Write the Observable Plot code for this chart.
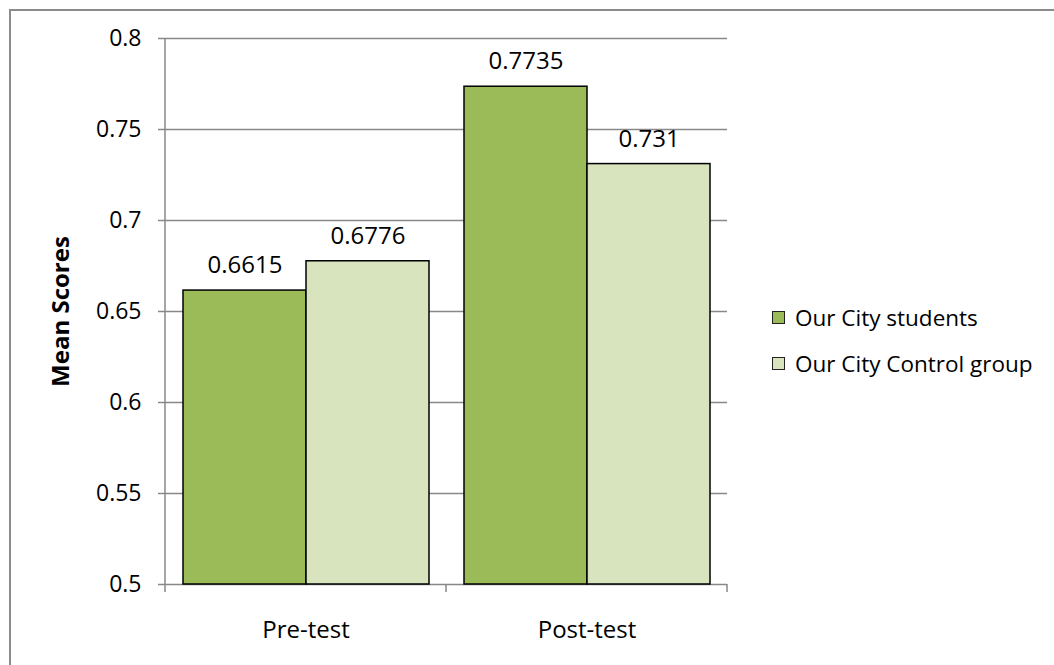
<!DOCTYPE html>
<html>
<head>
<meta charset="utf-8">
<script src="https://cdn.jsdelivr.net/npm/d3@7"></script>
<script src="https://cdn.jsdelivr.net/npm/@observablehq/plot@0.6"></script>
<style>
  html, body { margin: 0; padding: 0; background: #fff; }
  body { width: 1054px; height: 665px; overflow: hidden; position: relative; font-family: "Open Sans", sans-serif; }
  #frame { position: absolute; left: 9px; top: 9px; width: 1100px; height: 720px;
           border-top: 2px solid #8c8c8c; border-left: 2px solid #8c8c8c; }
  #chart { position: absolute; left: 0; top: 0; }
  #legend { position: absolute; left: 772px; top: 294px; font-size: 22.5px; color: #000; }
  .row { display: flex; align-items: center; height: 46px; white-space: nowrap; }
  .sw { width: 13px; height: 13px; box-sizing: border-box; border: 1.5px solid #222; margin-right: 10px; }
</style>
</head>
<body>
<div id="frame"></div>
<div id="chart"></div>
<div id="legend"></div>
<script>
// ---- data ----
const categories = ["Pre-test", "Post-test"];
const series = ["Our City students", "Our City Control group"];
const studentsValues = [0.6615, 0.7735];
const controlValues = [0.6776, 0.731];
const studentsLabels = ["0.6615", "0.7735"];
const controlLabels = ["0.6776", "0.731"];
const colors = ["#9bbb59", "#d7e4bd"];
const yTicks = [0.5, 0.55, 0.6, 0.65, 0.7, 0.75, 0.8];
const yTickLabels = ["0.5", "0.55", "0.6", "0.65", "0.7", "0.75", "0.8"];
const yLabel = "Mean Scores";

// long table for the library
const table = [];
categories.forEach((c, i) => {
  table.push({category: c, series: series[0], value: studentsValues[i], label: studentsLabels[i]});
  table.push({category: c, series: series[1], value: controlValues[i], label: controlLabels[i]});
});

const chart = Plot.plot({
  width: 1054,
  height: 665,
  marginLeft: 164,
  marginRight: 327,
  marginTop: 38,
  marginBottom: 81,
  style: {fontFamily: "'Open Sans', sans-serif", fontSize: "23px", color: "#000", background: "transparent"},
  fx: {domain: categories, paddingInner: 0, paddingOuter: 0, label: null},
  x: {domain: series, paddingInner: 0, paddingOuter: 0.137, axis: null},
  y: {domain: [yTicks[0], yTicks[yTicks.length - 1]], label: null},
  color: {domain: series, range: colors},
  marks: [
    Plot.gridY(yTicks, {stroke: "#888", strokeOpacity: 1, strokeWidth: 1.5}),
    Plot.barY(table, {fx: "category", x: "series", y1: yTicks[0], y2: "value", fill: "series", stroke: "#000", strokeWidth: 1.5}),
    Plot.text(table, {fx: "category", x: "series", y: "value", text: "label", dy: -25, lineAnchor: "middle", fill: "#000", fontSize: 24}),
    Plot.axisY({ticks: yTicks, tickSize: 7, tickPadding: 17, stroke: "#888", strokeWidth: 1.5, fill: "#000", fontSize: 23,
                tickFormat: d => yTickLabels[yTicks.indexOf(d)], label: yLabel, labelArrow: "none", labelAnchor: "center", labelOffset: 114}),
    Plot.axisFx({anchor: "bottom", tickSize: 0, tickPadding: 36, label: null, fill: "#000", fontSize: 24})
  ]
});
document.getElementById("chart").appendChild(chart);

// bold axis title (no arrow)
d3.select(chart).selectAll('[aria-label="y-axis label"]').attr("font-weight", "bold").attr("font-size", 24)
  .selectAll("text").text(yLabel);

// axis line and category boundary ticks, positioned through the plot's own scales
const fxScale = Plot.scale({fx: chart.scale("fx")});
const yScale = Plot.scale({y: chart.scale("y")});
const bw = fxScale.bandwidth;
const x0 = fxScale.apply(categories[0]);
const yTop = yScale.apply(yTicks[yTicks.length - 1]);
const yBot = yScale.apply(yTicks[0]);
const g = d3.select(chart).append("g").attr("stroke", "#888").attr("stroke-width", 1.5);
g.append("line").attr("x1", x0).attr("x2", x0).attr("y1", yTop).attr("y2", yBot);
const edges = [];
categories.forEach(c => { edges.push(fxScale.apply(c)); edges.push(fxScale.apply(c) + bw); });
[...new Set(edges.map(e => Math.round(e * 100) / 100))].forEach(e => {
  g.append("line").attr("x1", e).attr("x2", e).attr("y1", yBot).attr("y2", yBot + 8);
});

// legend
const lg = document.getElementById("legend");
series.forEach((s, i) => {
  const row = document.createElement("div");
  row.className = "row";
  const sw = document.createElement("div");
  sw.className = "sw";
  sw.style.background = colors[i];
  const t = document.createElement("span");
  t.textContent = s;
  row.appendChild(sw);
  row.appendChild(t);
  lg.appendChild(row);
});
</script>
</body>
</html>
